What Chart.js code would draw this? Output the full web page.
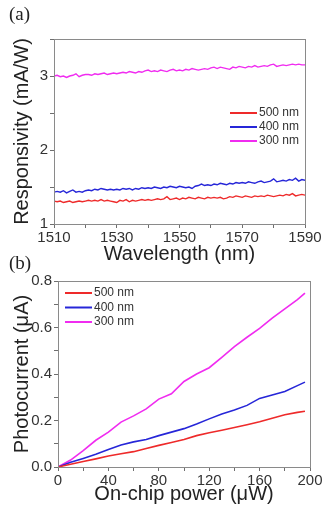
<!DOCTYPE html>
<html>
<head>
<meta charset="utf-8">
<script src="https://cdn.jsdelivr.net/npm/chart.js@4.4.0/dist/chart.umd.min.js"></script>
<style>
    body { margin: 0; background: #fff; width: 324px; height: 505px; overflow: hidden; position: relative; }
    .panel { position: absolute; left: 0; width: 324px; }
    .tag { position: absolute; font-family: "Liberation Serif", "Times New Roman", serif; font-size: 19px; color: #222; }
</style>
</head>
<body>
<div class="panel" style="top:0;height:268px"><canvas id="chartA" width="324" height="268"></canvas></div>
<div class="panel" style="top:255px;height:250px"><canvas id="chartB" width="324" height="250"></canvas></div>
<div class="tag" style="left:9px;top:3px">(a)</div>
<div class="tag" style="left:9px;top:252px">(b)</div>

<script>
// (a) responsivity vs wavelength
const wavelength = [
    1510, 1511, 1512, 1513, 1514, 1515, 1516, 1517, 1518, 1519,
    1520, 1521, 1522, 1523, 1524, 1525, 1526, 1527, 1528, 1529,
    1530, 1531, 1532, 1533, 1534, 1535, 1536, 1537, 1538, 1539,
    1540, 1541, 1542, 1543, 1544, 1545, 1546, 1547, 1548, 1549,
    1550, 1551, 1552, 1553, 1554, 1555, 1556, 1557, 1558, 1559,
    1560, 1561, 1562, 1563, 1564, 1565, 1566, 1567, 1568, 1569,
    1570, 1571, 1572, 1573, 1574, 1575, 1576, 1577, 1578, 1579,
    1580, 1581, 1582, 1583, 1584, 1585, 1586, 1587, 1588, 1589, 1590
];
const resp500 = [
    1.31, 1.30, 1.31, 1.29, 1.30, 1.31, 1.29, 1.30, 1.31, 1.30,
    1.31, 1.32, 1.31, 1.32, 1.31, 1.33, 1.31, 1.32, 1.31, 1.30,
    1.29, 1.32, 1.31, 1.33, 1.30, 1.32, 1.31, 1.32, 1.33, 1.32,
    1.33, 1.32, 1.33, 1.34, 1.33, 1.34, 1.37, 1.33, 1.34, 1.35,
    1.33, 1.35, 1.34, 1.36, 1.35, 1.34, 1.36, 1.35, 1.34, 1.36,
    1.35, 1.36, 1.35, 1.36, 1.34, 1.35, 1.37, 1.36, 1.38, 1.37,
    1.36, 1.38, 1.37, 1.36, 1.38, 1.37, 1.38, 1.37, 1.39, 1.38,
    1.37, 1.38, 1.39, 1.38, 1.40, 1.39, 1.41, 1.38, 1.39, 1.40, 1.39
];
const resp400 = [
    1.43, 1.44, 1.43, 1.45, 1.42, 1.44, 1.46, 1.43, 1.44, 1.43,
    1.45, 1.46, 1.45, 1.47, 1.46, 1.48, 1.47, 1.46, 1.47, 1.46,
    1.47, 1.46, 1.48, 1.47, 1.48, 1.46, 1.48, 1.47, 1.49, 1.48,
    1.49, 1.48, 1.50, 1.49, 1.48, 1.50, 1.49, 1.51, 1.50, 1.49,
    1.51, 1.50, 1.49, 1.50, 1.48, 1.51, 1.52, 1.54, 1.52, 1.53,
    1.52, 1.54, 1.53, 1.55, 1.54, 1.53, 1.55, 1.54, 1.56, 1.55,
    1.56, 1.55, 1.57, 1.56, 1.55, 1.57, 1.58, 1.56, 1.57, 1.58,
    1.61, 1.57, 1.58, 1.59, 1.58, 1.60, 1.59, 1.62, 1.58, 1.60, 1.59
];
const resp300 = [
    3.00, 3.01, 2.99, 3.00, 2.98, 3.00, 3.01, 3.03, 2.99, 3.01,
    3.02, 3.02, 3.01, 3.03, 3.02, 3.03, 3.04, 3.02, 3.03, 3.04,
    3.03, 3.04, 3.05, 3.04, 3.06, 3.05, 3.04, 3.06, 3.05, 3.07,
    3.08, 3.06, 3.07, 3.06, 3.08, 3.07, 3.06, 3.08, 3.09, 3.07,
    3.08, 3.07, 3.09, 3.08, 3.10, 3.09, 3.08, 3.09, 3.10, 3.09,
    3.11, 3.12, 3.10, 3.12, 3.11, 3.10, 3.09, 3.12, 3.11, 3.13,
    3.12, 3.11, 3.13, 3.12, 3.14, 3.12, 3.13, 3.14, 3.13, 3.15,
    3.16, 3.13, 3.14, 3.15, 3.14, 3.15, 3.16, 3.15, 3.16, 3.15, 3.15
];
const ticksA_x = [1510, 1530, 1550, 1570, 1590];
const ticksA_y = [1, 2, 3];

// (b) photocurrent vs on-chip power
const power = [0, 10, 20, 30, 40, 50, 60, 70, 80, 90, 100, 110, 120, 130, 140, 150, 160, 170, 180, 190, 196];
const current500 = [0, 0.012, 0.024, 0.035, 0.047, 0.057, 0.066, 0.080, 0.093, 0.105, 0.118, 0.135, 0.147, 0.158, 0.170, 0.182, 0.195, 0.210, 0.225, 0.235, 0.240];
const current400 = [0, 0.020, 0.037, 0.055, 0.075, 0.095, 0.108, 0.118, 0.135, 0.150, 0.165, 0.185, 0.207, 0.228, 0.245, 0.265, 0.295, 0.310, 0.325, 0.350, 0.365];
const current300 = [0, 0.030, 0.070, 0.115, 0.150, 0.193, 0.220, 0.250, 0.292, 0.315, 0.368, 0.400, 0.427, 0.472, 0.518, 0.558, 0.596, 0.640, 0.680, 0.720, 0.748];
const ticksB_x = [0, 40, 80, 120, 160, 200];
const ticksB_y = [0, 0.2, 0.4, 0.6, 0.8];

const seriesLabels = ['500 nm', '400 nm', '300 nm'];
const RED = '#ee2a2a', BLUE = '#2626d8', MAGENTA = '#f02cf0';
const FONT = '"Liberation Sans", Arial, sans-serif';
const AXIS = '#6e6e6e';

const pares = (xs, ys) => xs.map((x, i) => ({ x: x, y: ys[i] }));
const temTick = (lista, v) => lista.some(t => Math.abs(t - v) < 1e-6);

// caixa cinza em volta da área do gráfico
const moldura = {
    id: 'moldura',
    afterDraw(chart) {
        const { ctx, chartArea: a } = chart;
        ctx.save();
        ctx.strokeStyle = '#8a8a8a';
        ctx.lineWidth = 1;
        ctx.strokeRect(a.left + 0.5, a.top + 0.5, a.right - a.left, a.bottom - a.top);
        ctx.restore();
    }
};

// legenda desenhada à mão, como na figura
const legenda = {
    id: 'legenda',
    afterDatasetsDraw(chart, args, opts) {
        const ctx = chart.ctx;
        ctx.save();
        ctx.font = '12px ' + FONT;
        ctx.textBaseline = 'middle';
        chart.data.datasets.forEach((ds, i) => {
            const y = opts.y + i * opts.gap;
            ctx.strokeStyle = ds.borderColor;
            ctx.lineWidth = 2;
            ctx.beginPath();
            ctx.moveTo(opts.x, y);
            ctx.lineTo(opts.x + opts.len, y);
            ctx.stroke();
            ctx.fillStyle = '#333';
            ctx.fillText(ds.label, opts.x + opts.len + 2, y);
        });
        ctx.restore();
    }
};

function eixo(cfg) {
    return {
        type: 'linear',
        min: cfg.min,
        max: cfg.max,
        afterFit: cfg.fit,
        border: { display: true, color: AXIS, width: 1 },
        grid: { drawOnChartArea: false, drawTicks: true, tickLength: 4, color: AXIS },
        ticks: {
            stepSize: cfg.step,
            autoSkip: false,
            maxRotation: 0,
            padding: cfg.pad,
            color: '#333',
            font: { family: FONT, size: 15 },
            callback: v => temTick(cfg.labels, v) ? cfg.fmt(v) : ''
        },
        title: {
            display: true,
            text: cfg.title,
            color: '#222',
            font: { family: FONT, size: 20, lineHeight: 1.1 },
            padding: cfg.titlePad
        }
    };
}

function serie(label, data, cor, largura) {
    return {
        label: label,
        data: data,
        borderColor: cor,
        backgroundColor: cor,
        borderWidth: largura,
        pointRadius: 0,
        tension: 0,
        fill: false
    };
}

new Chart(document.getElementById('chartA'), {
    type: 'line',
    data: {
        datasets: [
            serie(seriesLabels[0], pares(wavelength, resp500), RED, 1.4),
            serie(seriesLabels[1], pares(wavelength, resp400), BLUE, 1.4),
            serie(seriesLabels[2], pares(wavelength, resp300), MAGENTA, 1.4)
        ]
    },
    options: {
        responsive: false,
        animation: false,
        layout: { padding: { top: 39, right: 19, left: 0, bottom: 0 } },
        plugins: {
            legend: { display: false },
            tooltip: { enabled: false },
            legenda: { x: 230, y: 113, gap: 14, len: 27 }
        },
        scales: {
            x: eixo({
                min: 1510, max: 1590, step: 10, labels: ticksA_x, fmt: v => String(v), pad: 1,
                title: 'Wavelength (nm)', titlePad: { top: 0, bottom: 3 },
                fit: s => { s.height = 44; }
            }),
            y: eixo({
                min: 1, max: 3.5, step: 0.5, labels: ticksA_y, fmt: v => String(v), pad: 2,
                title: 'Responsivity (mA/W)', titlePad: { top: 11, bottom: 0 },
                fit: s => { s.width = 54; }
            })
        }
    },
    plugins: [moldura, legenda]
});

new Chart(document.getElementById('chartB'), {
    type: 'line',
    data: {
        datasets: [
            serie(seriesLabels[0], pares(power, current500), RED, 1.6),
            serie(seriesLabels[1], pares(power, current400), BLUE, 1.6),
            serie(seriesLabels[2], pares(power, current300), MAGENTA, 1.6)
        ]
    },
    options: {
        responsive: false,
        animation: false,
        layout: { padding: { top: 26, right: 14, left: 0, bottom: 0 } },
        plugins: {
            legend: { display: false },
            tooltip: { enabled: false },
            legenda: { x: 65, y: 38, gap: 14.5, len: 27 }
        },
        scales: {
            x: eixo({
                min: 0, max: 200, step: 20, labels: ticksB_x, fmt: v => String(v), pad: 1,
                title: 'On-chip power (\u03bcW)', titlePad: { top: 0, bottom: 0 },
                fit: s => { s.height = 38; }
            }),
            y: eixo({
                min: 0, max: 0.8, step: 0.1, labels: ticksB_y, fmt: v => v.toFixed(1), pad: 2,
                title: 'Photocurrent (\u03bcA)', titlePad: { top: 11, bottom: 0 },
                fit: s => { s.width = 58; }
            })
        }
    },
    plugins: [moldura, legenda]
});
</script>
</body>
</html>
